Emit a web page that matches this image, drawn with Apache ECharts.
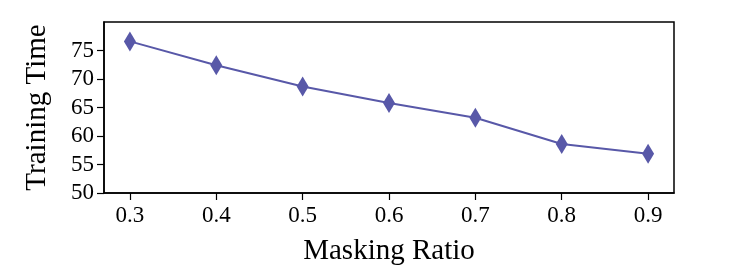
<!DOCTYPE html>
<html>
<head>
<meta charset="utf-8">
<script src="https://cdn.jsdelivr.net/npm/echarts@6/dist/echarts.min.js"></script>
<style>html,body{margin:0;padding:0;background:#fff}#c{width:748px;height:276px}</style>
</head>
<body>
<div id="c"></div>
<script>
const maskingRatio = [0.3, 0.4, 0.5, 0.6, 0.7, 0.8, 0.9];
const trainingTime = [76.6, 72.4, 68.7, 65.8, 63.2, 58.6, 56.9];
const yTicks = [50, 55, 60, 65, 70, 75];
const xTicks = [0.3, 0.4, 0.5, 0.6, 0.7, 0.8, 0.9];

const font = 'Liberation Serif';
const chart = echarts.init(document.getElementById('c'), null, {renderer: 'canvas'});
chart.setOption({
  animation: false,
  backgroundColor: '#fff',
  grid: {left: 104, right: 74, top: 22, bottom: 83, show: true, borderColor: '#000', borderWidth: 1.5, backgroundColor: 'transparent'},
  xAxis: {
    type: 'value', min: 0.27, max: 0.93,
    name: 'Masking Ratio', nameLocation: 'middle', nameGap: 44,
    nameTextStyle: {fontFamily: font, fontSize: 29, color: '#000'},
    axisLine: {show: true, lineStyle: {color: '#000', width: 1.5}},
    axisTick: {show: true, length: 7, lineStyle: {color: '#000', width: 1.2}, customValues: xTicks},
    axisLabel: {fontFamily: font, fontSize: 23, color: '#000', margin: 11, customValues: xTicks, formatter: v => v.toFixed(1)},
    splitLine: {show: false}
  },
  yAxis: {
    type: 'value', min: 50, max: 80,
    name: 'Training Time', nameLocation: 'middle', nameGap: 52,
    nameTextStyle: {fontFamily: font, fontSize: 29, color: '#000'},
    axisLine: {show: true, lineStyle: {color: '#000', width: 1.5}},
    axisTick: {show: true, length: 7, lineStyle: {color: '#000', width: 1.2}, customValues: yTicks},
    axisLabel: {fontFamily: font, fontSize: 23, color: '#000', margin: 10, customValues: yTicks},
    splitLine: {show: false}
  },
  series: [{
    type: 'line',
    data: maskingRatio.map((x, i) => [x, trainingTime[i]]),
    symbol: 'diamond', symbolSize: [12, 20],
    lineStyle: {color: '#5858a8', width: 2},
    itemStyle: {color: '#5858a8'}
  }]
});
</script>
</body>
</html>
